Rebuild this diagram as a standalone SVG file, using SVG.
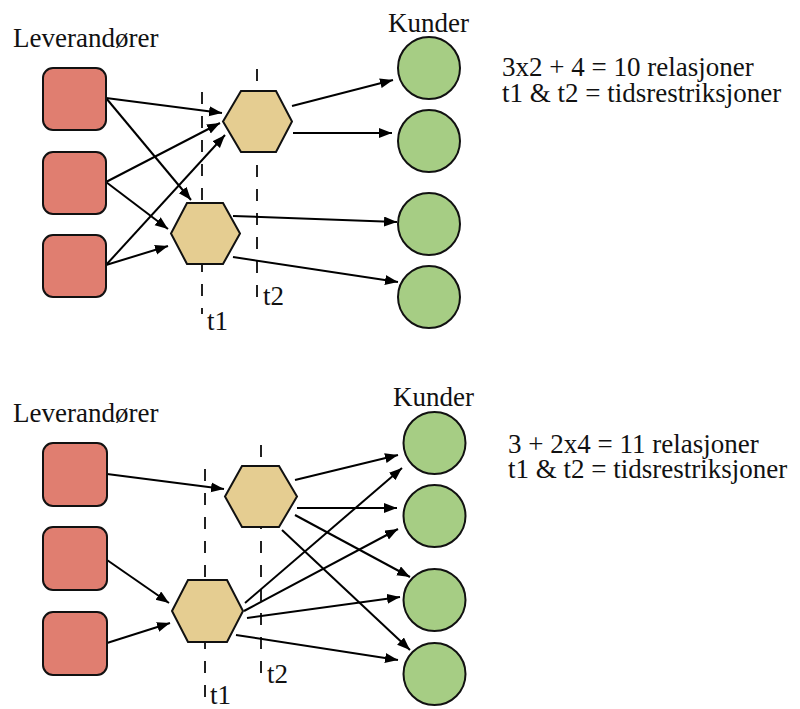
<svg xmlns="http://www.w3.org/2000/svg" width="800" height="709" viewBox="0 0 800 709">
  <style>
    text { font-family: 'Liberation Serif', 'Times New Roman', serif; font-size: 27px; fill: #111; }
    .sup { fill: #E07E70; stroke: #111; stroke-width: 2; }
    .hub { fill: #E5CD91; stroke: #111; stroke-width: 2; }
    .cus { fill: #A6CD84; stroke: #111; stroke-width: 2; }
    .dash { stroke: #222; stroke-width: 2; stroke-dasharray: 12 12; fill: none; }
    .edge { stroke: #000; stroke-width: 2; fill: none; marker-end: url(#arrow); }
  </style>
  <defs>
    <marker id="arrow" markerUnits="userSpaceOnUse" markerWidth="14" markerHeight="11" refX="13" refY="5" orient="auto">
      <path d="M0,0 L13,5 L0,10 z" fill="#000"/>
    </marker>
  </defs>
  <rect width="800" height="709" fill="#fff"/>

  <!-- time restriction lines -->
  <g id="time-lines">
    <line class="dash" x1="202" y1="92" x2="202" y2="314"/>
    <line class="dash" x1="257" y1="69" x2="257" y2="297"/>
    <line class="dash" x1="205" y1="469" x2="205" y2="703"/>
    <line class="dash" x1="261" y1="445" x2="261" y2="675"/>
  </g>

  <!-- connectors -->
  <g id="connectors">
    <!-- upper network -->
    <line class="edge" x1="106" y1="98" x2="222" y2="113"/>
    <line class="edge" x1="106" y1="98" x2="191" y2="200"/>
    <line class="edge" x1="106" y1="182" x2="220" y2="123"/>
    <line class="edge" x1="106" y1="182" x2="168" y2="229"/>
    <line class="edge" x1="106" y1="265" x2="225" y2="135"/>
    <line class="edge" x1="106" y1="265" x2="168" y2="246"/>
    <line class="edge" x1="292" y1="106" x2="393" y2="80"/>
    <line class="edge" x1="293" y1="133" x2="392" y2="133"/>
    <line class="edge" x1="233" y1="216" x2="397" y2="222"/>
    <line class="edge" x1="233" y1="257" x2="398" y2="282"/>
    <!-- lower network -->
    <line class="edge" x1="107" y1="474" x2="224" y2="489"/>
    <line class="edge" x1="107" y1="560" x2="169" y2="603"/>
    <line class="edge" x1="107" y1="643" x2="170" y2="623"/>
    <line class="edge" x1="295" y1="480" x2="398" y2="455"/>
    <line class="edge" x1="297" y1="508" x2="397" y2="508"/>
    <line class="edge" x1="295" y1="515" x2="410" y2="577"/>
    <line class="edge" x1="282" y1="530" x2="410" y2="650"/>
    <line class="edge" x1="245" y1="603" x2="402" y2="468"/>
    <line class="edge" x1="244" y1="611" x2="398" y2="529"/>
    <line class="edge" x1="247" y1="618" x2="400" y2="597"/>
    <line class="edge" x1="236" y1="635" x2="398" y2="660"/>
  </g>

  <!-- upper network nodes -->
  <g id="s1"><rect class="sup" x="43" y="68" width="63" height="62" rx="10"/></g>
  <g id="s2"><rect class="sup" x="43" y="152" width="63" height="62" rx="10"/></g>
  <g id="s3"><rect class="sup" x="43" y="235" width="63" height="62" rx="10"/></g>
  <g id="h1"><polygon class="hub" points="223,121.5 241,91 276,91 292,121.5 276,152 241,152"/></g>
  <g id="h2"><polygon class="hub" points="171,233.5 187,203 223,203 240,233.5 223,264 187,264"/></g>
  <g id="c1"><circle class="cus" cx="429" cy="68" r="31"/></g>
  <g id="c2"><circle class="cus" cx="429" cy="141" r="31"/></g>
  <g id="c3"><circle class="cus" cx="429" cy="224" r="31"/></g>
  <g id="c4"><circle class="cus" cx="429" cy="297" r="31"/></g>

  <!-- lower network nodes -->
  <g id="s4"><rect class="sup" x="43" y="443" width="64" height="63" rx="10"/></g>
  <g id="s5"><rect class="sup" x="43" y="527" width="64" height="63" rx="10"/></g>
  <g id="s6"><rect class="sup" x="43" y="612" width="64" height="63" rx="10"/></g>
  <g id="h3"><polygon class="hub" points="225,496.5 242,466 279,466 297,496.5 279,527 242,527"/></g>
  <g id="h4"><polygon class="hub" points="172,611 188,580 227,580 243,611 227,642 188,642"/></g>
  <g id="c5"><circle class="cus" cx="434.5" cy="443" r="31"/></g>
  <g id="c6"><circle class="cus" cx="434.5" cy="516" r="31"/></g>
  <g id="c7"><circle class="cus" cx="434.5" cy="600" r="31"/></g>
  <g id="c8"><circle class="cus" cx="434.5" cy="674" r="31"/></g>

  <!-- labels -->
  <g id="labels">
    <text x="13" y="47">Leverandører</text>
    <text x="388" y="32">Kunder</text>
    <text x="502" y="76">3x2 + 4 = 10 relasjoner</text>
    <text x="502" y="102">t1 &amp; t2 = tidsrestriksjoner</text>
    <text x="207" y="330">t1</text>
    <text x="263" y="305">t2</text>

    <text x="13" y="422">Leverandører</text>
    <text x="393" y="406">Kunder</text>
    <text x="508" y="453">3 + 2x4 = 11 relasjoner</text>
    <text x="508" y="478">t1 &amp; t2 = tidsrestriksjoner</text>
    <text x="210" y="704">t1</text>
    <text x="267" y="683">t2</text>
  </g>
</svg>
